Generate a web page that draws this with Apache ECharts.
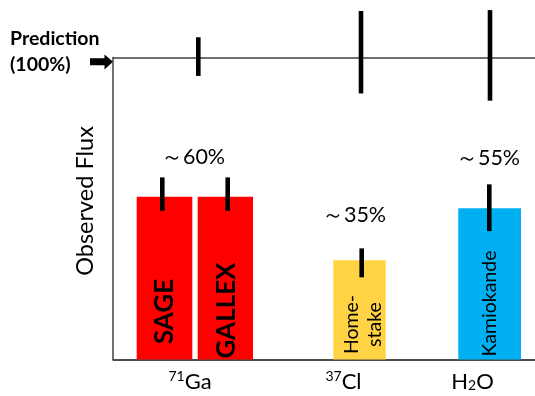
<!DOCTYPE html>
<html>
<head>
<meta charset="utf-8">
<script src="https://cdn.jsdelivr.net/npm/echarts@6/dist/echarts.min.js"></script>
<style>
html,body{margin:0;padding:0;background:#fff;}
#chart{width:535px;height:396px;}
</style>
</head>
<body>
<div id="chart"></div>
<script>
// ---- data ----
const groups = ['71Ga', '37Cl', 'H2O'];
const detectors = ['SAGE', 'GALLEX', 'Home-\nstake', 'Kamiokande'];
const observedFlux = [53.9, 53.9, 32.9, 50.1];      // % of prediction
const errLow = [49.2, 49.2, 27.2, 42.5];
const errHigh = [60.3, 60.3, 36.8, 58.0];
const predLow = [93.9, 88.1, 85.7];
const predHigh = [106.7, 115.4, 115.7];
const approxLabels = ['～60%', '～35%', '～55%'];

// ---- layout (x positions in axis units) ----
const xMax = 422;
const barSpans = [[23.7, 79.3], [84.7, 140], [220.3, 272.7], [345.3, 408]];
const errX = [49.3, 114.7, 248.7, 376.3];
const predX = [85.3, 248, 377];
const groupX = [77, 230.5, 359.5];
const barColors = ['#FF0000', '#FF0000', '#FFD343', '#00B0F0'];
const labelLift = [48, 49, 35, 56];
const labelShift = [0, 1.5, 3.5, 0];
const labelFont = [[26, 'bold'], [26, 'bold'], [19.5, 'normal'], [19.5, 'normal']];
const pctPos = [[193, 157], [354, 215], [488, 158]];

const FONT = 'Lato, "Liberation Sans", sans-serif';
const chart = echarts.init(document.getElementById('chart'), null, {renderer: 'canvas'});

const groupRich = {
  '71Ga': '{sup|71}{b|Ga}',
  '37Cl': '{sup|37}{b|Cl}',
  'H2O': '{b|H}{sub|2}{b|O}'
};

const option = {
  animation: false,
  grid: {left: 113, right: 0, top: 57.5, bottom: 36.5, containLabel: false},
  xAxis: {
    type: 'value', min: 0, max: xMax,
    axisLine: {show: true, lineStyle: {color: '#404040', width: 1.5}},
    axisTick: {show: false},
    splitLine: {show: false},
    axisLabel: {
      show: true,
      customValues: groupX,
      margin: 9,
      formatter: function (v) {
        const i = groupX.indexOf(v);
        return i >= 0 ? groupRich[groups[i]] : '';
      },
      rich: {
        b: {fontFamily: FONT, fontSize: 22, color: '#000', lineHeight: 26},
        sup: {fontFamily: FONT, fontSize: 14, color: '#000', padding: [0, 0, 10, 0]},
        sub: {fontFamily: FONT, fontSize: 14, color: '#000', padding: [8, 0, 0, 0]}
      }
    }
  },
  yAxis: {
    type: 'value', min: 0, max: 100, interval: 100,
    axisLine: {show: true, lineStyle: {color: '#404040', width: 1.5}},
    axisTick: {show: false},
    axisLabel: {show: false},
    splitLine: {show: true, lineStyle: {color: '#404040', width: 1.5}}
  },
  series: [
    {
      type: 'custom',
      name: 'bars',
      clip: false,
      data: observedFlux.map((v, i) => [i, v]),
      renderItem: function (params, api) {
        const i = api.value(0);
        const span = barSpans[i];
        const p0 = api.coord([span[0], api.value(1)]);
        const p1 = api.coord([span[1], 0]);
        const cx = (p0[0] + p1[0]) / 2 + labelShift[i];
        return {
          type: 'group',
          children: [
            {
              type: 'rect',
              shape: {x: p0[0], y: p0[1], width: p1[0] - p0[0], height: p1[1] - p0[1]},
              style: {fill: barColors[i]}
            },
            {
              type: 'text',
              x: cx, y: p1[1] - labelLift[i],
              rotation: Math.PI / 2,
              style: {
                text: detectors[i],
                fontFamily: FONT,
                fontSize: labelFont[i][0],
                fontWeight: labelFont[i][1],
                lineHeight: labelFont[i][0] + 3,
                fill: '#000',
                align: 'center',
                verticalAlign: 'middle'
              }
            }
          ]
        };
      }
    },
    {
      type: 'custom',
      name: 'errors',
      clip: false,
      z: 5,
      data: observedFlux.map((v, i) => [i, errLow[i], errHigh[i]]),
      renderItem: function (params, api) {
        const i = api.value(0);
        const a = api.coord([errX[i], api.value(1)]);
        const b = api.coord([errX[i], api.value(2)]);
        return {
          type: 'rect',
          shape: {x: a[0] - 2.3, y: b[1], width: 4.6, height: a[1] - b[1]},
          style: {fill: '#000'}
        };
      }
    },
    {
      type: 'custom',
      name: 'prediction',
      clip: false,
      z: 5,
      data: predLow.map((v, i) => [i, v, predHigh[i]]),
      renderItem: function (params, api) {
        const i = api.value(0);
        const a = api.coord([predX[i], api.value(1)]);
        const b = api.coord([predX[i], api.value(2)]);
        return {
          type: 'rect',
          shape: {x: a[0] - 2.3, y: b[1], width: 4.6, height: a[1] - b[1]},
          style: {fill: '#000'}
        };
      }
    }
  ],
  graphic: [
    {
      type: 'text', left: 10, top: 26,
      style: {text: 'Prediction\n(100%)', fontFamily: FONT, fontSize: 19.5, fontWeight: 'bold', lineHeight: 26, fill: '#000'}
    },
    {
      type: 'polygon',
      shape: {points: [[90, 58.3], [104.5, 58.3], [104.5, 54.5], [113, 61.7], [104.5, 69.5], [104.5, 65.3], [90, 65.3]]},
      style: {fill: '#000'}
    },
    {
      type: 'text', x: 85, y: 201, rotation: Math.PI / 2,
      style: {text: 'Observed Flux', fontFamily: FONT, fontSize: 23.5, fill: '#000', align: 'center', verticalAlign: 'middle'}
    }
  ].concat(approxLabels.map((t, i) => ({
    type: 'text', x: pctPos[i][0], y: pctPos[i][1],
    style: {text: t, fontFamily: FONT, fontSize: 21.5, fill: '#000', align: 'center', verticalAlign: 'middle'}
  })))
};
chart.setOption(option);
</script>
</body>
</html>
